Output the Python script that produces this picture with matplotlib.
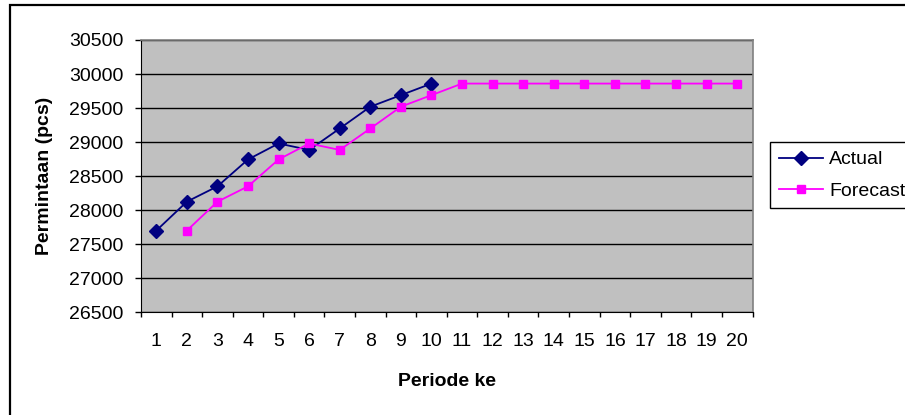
import matplotlib
matplotlib.use("Agg")
import matplotlib.pyplot as plt
from matplotlib.patches import Rectangle
from matplotlib.ticker import FixedLocator, NullFormatter

plt.rcParams['font.family'] = ['Liberation Sans', 'DejaVu Sans']

periods = list(range(1, 21))
actual_x = list(range(1, 11))
actual = [27700, 28125, 28350, 28745, 28980, 28885, 29200, 29520, 29690, 29860]
forecast_x = list(range(2, 21))
forecast = [27700, 28125, 28350, 28745, 28980, 28885, 29200, 29520, 29690,
            29860, 29860, 29860, 29860, 29860, 29860, 29860, 29860, 29860, 29860]
yticks = [26500, 27000, 27500, 28000, 28500, 29000, 29500, 30000, 30500]

W, H = 905, 415
FS = 14
fig = plt.figure(figsize=(W / 100, H / 100), dpi=100)
fig.patch.set_facecolor('white')

# outer chart border
fig.add_artist(Rectangle((10 / W, -0.05), 1.2, (H - 5) / H + 0.05,
                         transform=fig.transFigure, fill=False,
                         edgecolor='black', linewidth=1.6))

L, R, T, B = 141, 752.5, 40, 312.3
ax = fig.add_axes([L / W, (H - B) / H, (R - L) / W, (B - T) / H])
ax.set_facecolor('#C0C0C0')

ax.plot(actual_x, actual, color='#000080', marker='D', markersize=7,
        linewidth=1.3, label='Actual', zorder=3)
ax.plot(forecast_x, forecast, color='#FF00FF', marker='s', markersize=6.2,
        linewidth=1.3, label='Forecast', zorder=3)

ax.set_xlim(0.5, 20.5)
ax.set_ylim(26500, 30500)
ax.set_yticks(yticks)
ax.set_yticklabels([str(v) for v in yticks])
ax.set_xticks(periods)
ax.set_xticklabels([str(p) for p in periods])
ax.xaxis.set_minor_locator(FixedLocator([i + 0.5 for i in range(0, 21)]))
ax.xaxis.set_minor_formatter(NullFormatter())

ax.tick_params(axis='x', which='major', length=0, pad=15, labelsize=FS)
ax.tick_params(axis='x', which='minor', length=3.5, width=1, direction='out', color='black')
ax.tick_params(axis='y', which='major', length=4.5, width=1, pad=8, labelsize=FS, color='black')

ax.yaxis.grid(True, color='black', linewidth=1)
ax.set_axisbelow(True)

for side in ['top', 'right']:
    ax.spines[side].set_color('#808080')
    ax.spines[side].set_linewidth(1.2)
ax.spines['left'].set_color('black')
ax.spines['bottom'].set_color('black')

ax.set_xlabel('Periode ke', fontsize=FS, fontweight='bold')
ax.xaxis.set_label_coords(0.5, -0.255)
ax.xaxis.label.set_va('center')
ax.set_ylabel('Permintaan (pcs)', fontsize=FS, fontweight='bold')
ax.yaxis.set_label_coords(-0.157, 0.5)
ax.yaxis.label.set_va('center')

leg = fig.legend(loc='upper left', bbox_to_anchor=(770 / W, (H - 142) / H),
                 fontsize=FS, frameon=True, fancybox=False, framealpha=1,
                 edgecolor='black', handlelength=2.3, handletextpad=0.3,
                 borderpad=0.45, labelspacing=0.7, borderaxespad=0)
leg.get_frame().set_linewidth(1)

fig.savefig('out.png', dpi=100)
